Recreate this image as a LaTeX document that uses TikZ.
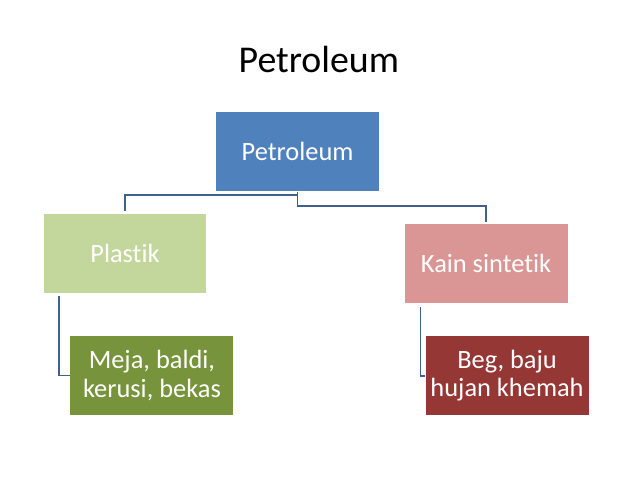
\documentclass[tikz,border=0pt]{standalone}
\usepackage{fontspec}
\setmainfont{Carlito}[Ligatures=NoCommon]
\usepackage{xcolor}
\definecolor{petrol_blue}{RGB}{79,129,189}
\definecolor{plastic_green}{RGB}{195,214,155}
\definecolor{cloth_pink}{RGB}{217,150,148}
\definecolor{dark_green}{RGB}{119,147,60}
\definecolor{dark_red}{RGB}{149,55,53}
\definecolor{link_blue}{RGB}{62,96,138}
\usepackage{tikz}

\tikzset{
  box/.style={rectangle, inner sep=0pt, minimum width=5.75cm, minimum height=2.79cm,
    align=center, text=white, font=\fontsize{26.5}{28.5}\selectfont},
  link/.style={draw=link_blue, line width=1.5pt, shorten >=0.08cm}
}

\begin{document}
\begin{tikzpicture}
\useasboundingbox (0, 0) rectangle (22.51, -16.90);

\node[anchor=base, font=\fontsize{38}{44}\selectfont] (title) at (11.25, -2.56) {Petroleum};

\node[box, fill=petrol_blue] (petroleum) at (10.50, -5.36) {Petroleum};
\node[box, fill=plastic_green] (plastik) at (4.41, -8.94) {Plastik};
\node[box, fill=cloth_pink] (kain) at (17.15, -9.31) {Kain sintetik};

\node[box, fill=dark_green] (meja) at (5.36, -13.25) {Meja, baldi,\\kerusi, bekas};
\node[box, fill=dark_red] (beg) at (17.89, -13.26) {Beg, baju\\hujan khemah};

\draw[link] (petroleum.south) -- ++(0, -0.51) -| (kain.north);
\draw[link] ([yshift=-0.12cm]petroleum.south) -| (plastik.north);

\draw[link, shorten >=0pt] ([xshift=0.56cm, yshift=-0.1cm]plastik.south west) |- (meja.west);
\draw[link, shorten >=0pt] ([xshift=0.56cm, yshift=-0.12cm]kain.south west) |- (beg.west);

\end{tikzpicture}
\end{document}
